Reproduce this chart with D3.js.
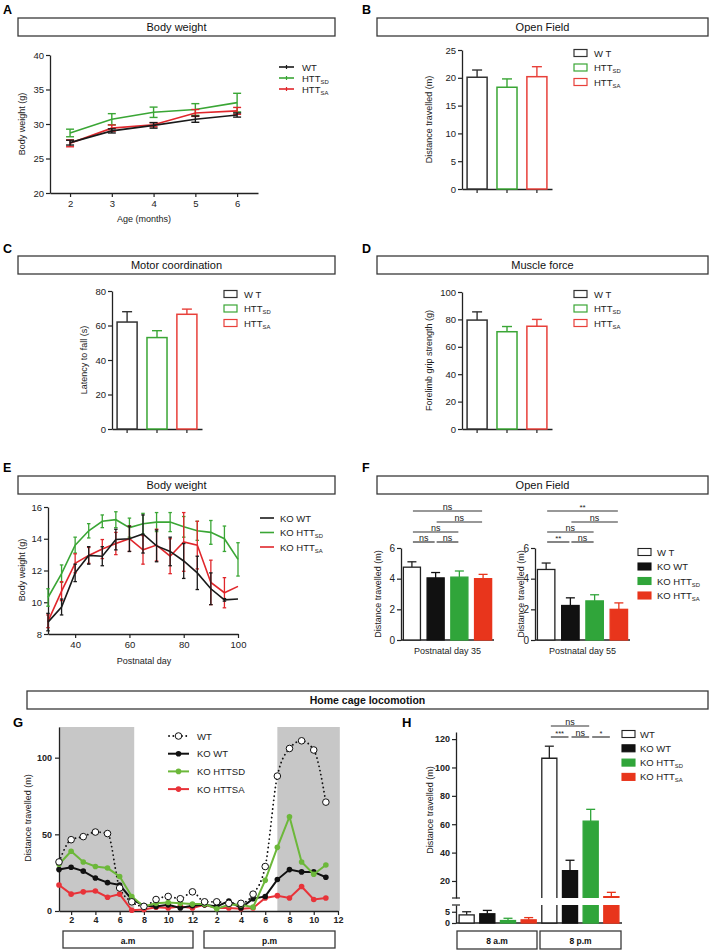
<!DOCTYPE html>
<html><head><meta charset="utf-8">
<script src="https://cdn.jsdelivr.net/npm/d3@7"></script>
<style>body{margin:0;background:#fff} svg{display:block}</style>
</head><body><svg id="c" width="709" height="950"></svg>
<script>
// ---------------- DATA ----------------
// A: body weight vs age
const ageMonths = [2,3,4,5,6];
const bwWT = [27.3,29.0,29.8,30.7,31.3], bwWTErr = [0.35,0.3,0.4,0.45,0.3];
const bwSD = [28.7,30.7,31.7,32.1,33.1], bwSDErr = [0.55,0.8,0.75,0.85,1.35];
const bwSA = [27.2,29.4,29.9,31.6,31.9], bwSAErr = [0.5,0.45,0.3,0.5,0.5];
const legendA = [["WT",""],["HTT","SD"],["HTT","SA"]];
// B, C, D: three-group bars
const groups3 = ["WT","HTTSD","HTTSA"];
const legend3 = [["W T",""],["HTT","SD"],["HTT","SA"]];
const ofVals = [20.1,18.3,20.2], ofErr = [1.3,1.5,1.8];
const rodVals = [62,53,66.5], rodErr = [6,4,3];
const gripVals = [79.5,71,75], gripErr = [6,3.8,5];
// E: KO body weight vs postnatal day
const days = [30,35,40,45,50,55,60,65,70,75,80,85,90,95,100];
const koWT = [8.75,9.7,11.85,12.95,12.9,13.95,14.0,14.3,13.55,13.2,12.6,11.85,10.85,10.15,10.2];
const koWTErr = [0.55,0.5,0.55,0.55,0.6,0.65,0.8,1.2,1.0,0.9,1.1,1.05,1.0,0.08,0];
const koSD = [10.3,11.8,13.6,14.5,15.1,15.2,14.7,14.95,15.05,15.05,14.75,14.5,14.4,14.0,12.7];
const koSDErr = [0.55,0.55,0.5,0.45,0.4,0.5,0.6,0.65,0.6,0.6,0.65,0.6,0.75,0.8,1.05];
const koSA = [8.8,10.7,12.45,12.95,13.35,13.7,14.0,13.3,13.6,12.9,13.8,13.6,11.25,10.6,11.0];
const koSAErr = [0.4,0.6,0.6,0.5,0.6,0.7,0.8,0.9,1.0,1.1,1.85,1.5,1.4,0.95,0];
const legendE = [["KO WT",""],["KO HTT","SD"],["KO  HTT","SA"]];
// F: open field, KO, 4 groups
const groups4 = ["WT","KOWT","KOSD","KOSA"];
const legend4 = [["W T",""],["KO WT",""],["KO  HTT","SD"],["KO  HTT","SA"]];
const of35 = [4.75,4.05,4.1,4.0], of35Err = [0.35,0.35,0.4,0.28];
const of55 = [4.6,2.25,2.55,2.0], of55Err = [0.42,0.5,0.4,0.42];
const sigPairsF = [[0,3],[1,3],[0,2],[0,1],[1,2]];
const sig35 = ["ns","ns","ns","ns","ns"];
const sig55 = ["**","ns","ns","**","ns"];
// G: home cage locomotion per hour
const hours = [1,2,3,4,5,6,7,8,9,10,11,12,13,14,15,16,17,18,19,20,21,22,23];
const hcWT   = [32,46.5,48.5,51.5,50.5,15,6,3,7.5,9.5,8,12.5,6,6,5,5,11,29,88,106,111,105,71];
const hcKOWT = [27,28.5,26,21.5,18.5,17,7.5,3.5,3,4,2,3.5,4,3,6.5,2,8,9.5,20.5,27,25.5,25.5,22];
const hcKOSD = [30.5,39,32,29,28,22.5,9.5,3,5,5.5,5,4.5,4.5,1.5,4,4,2.5,20,41.5,61.5,32,24,30];
const hcKOSA = [17,11,12.5,13,9,11,0.5,1,2.5,2,3,2,4,2,2,1.5,2,8.5,10,8.5,16,7.5,8.5];
const gTickPos = [2,4,6,8,10,12,14,16,18,20,22,24];
const gTickLabels = ["2","4","6","8","10","12","2","4","6","8","10","12"];
const legendG = ["WT","KO WT","KO HTTSD","KO HTTSA"];
// H: 8 a.m / 8 p.m
const periods = ["am","pm"];
const hAM = [3.6,4.1,1.1,1.4], hAMErr = [1.4,1.5,1.0,1.0];
const hPM = [106.5,27.3,62.2,8.9], hPMErr = [8.5,7.3,8.3,3.1];
const legendH = [["WT",""],["KO WT",""],["KO HTT","SD"],["KO HTT","SA"]];
const sigPairsH = [[0,2],[0,1],[1,2],[2,3]];
const sigH = ["ns","***","ns","*"];

// ---------------- DRAW ----------------
const FF = '"Liberation Sans", Arial, Helvetica, sans-serif';
const svg = d3.select("#c").attr("font-family", FF);
const INK = "#222";
const fmt = d3.format("~g");

function titleBox(x1,y1,x2,y2,label,bold,fs){
  svg.append("rect").attr("x",x1).attr("y",y1).attr("width",x2-x1).attr("height",y2-y1)
    .attr("fill","#fff").attr("stroke","#3a3a3a").attr("stroke-width",1.3);
  svg.append("text").attr("x",(x1+x2)/2).attr("y",(y1+y2)/2+4).attr("text-anchor","middle")
    .attr("font-size",fs||11).attr("font-weight",bold?"bold":"normal").attr("fill","#111").text(label);
}
function letter(x,y,t,fs){
  svg.append("text").attr("x",x).attr("y",y).attr("font-size",fs||12.5).attr("font-weight","bold").attr("fill","#000").text(t);
}
function styleAxis(g,fs,bold){
  g.select(".domain").attr("stroke",INK).attr("stroke-width",1.3);
  g.selectAll(".tick line").attr("stroke",INK).attr("stroke-width",1.2);
  g.selectAll(".tick text").attr("font-size",fs||9).attr("fill",INK)
    .attr("font-family",FF).attr("font-weight",bold?"bold":"normal");
}
function yLabel(x,y,t,fs){
  svg.append("text").attr("transform",`translate(${x},${y}) rotate(-90)`).attr("text-anchor","middle")
    .attr("font-size",fs||9).attr("fill","#222").text(t);
}
function subText(sel,base,sub,fs){
  sel.attr("font-size",fs).attr("fill","#222");
  sel.append("tspan").text(base);
  if(sub) sel.append("tspan").attr("font-size",fs*0.62).attr("dy",2).text(sub);
}
function errBar(g,x,y1,y2,cap,color,w,bothCaps){
  g.append("line").attr("x1",x).attr("x2",x).attr("y1",y1).attr("y2",y2).attr("stroke",color).attr("stroke-width",w);
  g.append("line").attr("x1",x-cap/2).attr("x2",x+cap/2).attr("y1",y2).attr("y2",y2).attr("stroke",color).attr("stroke-width",w);
  if(bothCaps) g.append("line").attr("x1",x-cap/2).attr("x2",x+cap/2).attr("y1",y1).attr("y2",y1).attr("stroke",color).attr("stroke-width",w);
}

// ===== Panel A =====
letter(3,14,"A");
titleBox(18,18,335,36,"Body weight");
{
  const x = d3.scaleLinear().domain([1.52,6.5]).range([50,258]);
  const y = d3.scaleLinear().domain([20,40]).range([193,55]);
  const gy = svg.append("g").attr("transform","translate(50,0)")
    .call(d3.axisLeft(y).tickValues([20,25,30,35,40]).tickFormat(fmt).tickSize(4).tickSizeOuter(0).tickPadding(2));
  styleAxis(gy,9.5);
  const gx = svg.append("g").attr("transform","translate(0,193)")
    .call(d3.axisBottom(x).tickValues(ageMonths).tickFormat(fmt).tickSize(4).tickSizeOuter(0).tickPadding(3));
  styleAxis(gx,9.5);
  svg.append("text").attr("x",144).attr("y",222).attr("text-anchor","middle").attr("font-size",9).attr("fill","#222").text("Age (months)");
  yLabel(25,124,"Body weight (g)");
  const series = [[bwWT,bwWTErr,"#1a1a1a"],[bwSD,bwSDErr,"#3aa635"],[bwSA,bwSAErr,"#e0262b"]];
  const g = svg.append("g");
  [series[1],series[2],series[0]].forEach(([v,e,c])=>{
    g.append("path").datum(v).attr("fill","none").attr("stroke",c).attr("stroke-width",1.6)
      .attr("d",d3.line().x((d,i)=>x(ageMonths[i])).y(d=>y(d)));
    v.forEach((d,i)=>errBar(g,x(ageMonths[i]),y(d-e[i]),y(d+e[i]),8,c,1.4,true));
  });
  legendA.forEach((l,i)=>{
    const yy = 67+i*11;
    svg.append("line").attr("x1",279).attr("x2",294).attr("y1",yy).attr("y2",yy).attr("stroke",series[i][2]).attr("stroke-width",1.6);
    svg.append("line").attr("x1",286.5).attr("x2",286.5).attr("y1",yy-2).attr("y2",yy+2).attr("stroke",series[i][2]).attr("stroke-width",1.2);
    subText(svg.append("text").attr("x",302).attr("y",yy+3.5),l[0],l[1],9.5);
  });
}

// ===== Panels B, C, D =====
const colors3 = ["#333333","#3aa635","#e8403a"];
function barPanel3(o){
  const x = d3.scaleBand().domain(groups3).range([o.x0,o.x1]).paddingInner(0.33).paddingOuter(0.17);
  const y = d3.scaleLinear().domain([0,o.max]).range([o.yb,o.yt]);
  const gy = svg.append("g").attr("transform",`translate(${o.x0},0)`)
    .call(d3.axisLeft(y).tickValues(o.ticks).tickFormat(fmt).tickSize(4).tickSizeOuter(0).tickPadding(2));
  styleAxis(gy,9.5);
  const gx = svg.append("g").attr("transform",`translate(0,${o.yb})`)
    .call(d3.axisBottom(x).tickSize(4).tickSizeOuter(0).tickFormat(""));
  styleAxis(gx,9);
  const g = svg.append("g");
  groups3.forEach((k,i)=>{
    const cx = x(k)+x.bandwidth()/2;
    errBar(g,cx,y(o.vals[i]),y(o.vals[i]+o.errs[i]),10,colors3[i],1.4,false);
    g.append("rect").attr("x",x(k)).attr("y",y(o.vals[i])).attr("width",x.bandwidth())
      .attr("height",o.yb-y(o.vals[i])).attr("fill","#fff").attr("stroke",colors3[i]).attr("stroke-width",1.5);
  });
  yLabel(o.ylx,(o.yb+o.yt)/2,o.ylabel);
  legend3.forEach((l,i)=>{
    const yy = o.ly+i*14.5;
    svg.append("rect").attr("x",o.lx).attr("y",yy-3.5).attr("width",13).attr("height",7)
      .attr("fill","#fff").attr("stroke",colors3[i]).attr("stroke-width",1.2);
    subText(svg.append("text").attr("x",o.lx+20).attr("y",yy+3.5),l[0],l[1],9.5);
  });
}
letter(362,14,"B");
titleBox(377,18,708,36,"Open Field");
barPanel3({x0:462,x1:552,yb:189,yt:50,max:25,ticks:[0,5,10,15,20,25],vals:ofVals,errs:ofErr,ylx:432,ylabel:"Distance travelled (m)",lx:574,ly:53});

letter(3,253,"C");
titleBox(18,256,335,274,"Motor coordination");
barPanel3({x0:112,x1:202,yb:429,yt:291,max:80,ticks:[0,20,40,60,80],vals:rodVals,errs:rodErr,ylx:87,ylabel:"Latency to fall (s)",lx:224,ly:294});

letter(362,253,"D");
titleBox(377,256,708,274,"Muscle force");
barPanel3({x0:462,x1:552,yb:429,yt:292,max:100,ticks:[0,20,40,60,80,100],vals:gripVals,errs:gripErr,ylx:432,ylabel:"Forelimb grip strength (g)",lx:574,ly:294});

// ===== Panel E =====
letter(3,472,"E");
titleBox(18,476,335,494,"Body weight");
{
  const x = d3.scaleLinear().domain([30,100]).range([48,238]);
  const y = d3.scaleLinear().domain([8,16]).range([634,507]);
  const gy = svg.append("g").attr("transform","translate(48,0)")
    .call(d3.axisLeft(y).tickValues([8,10,12,14,16]).tickFormat(fmt).tickSize(4).tickSizeOuter(0).tickPadding(2));
  styleAxis(gy,9.5);
  const gx = svg.append("g").attr("transform","translate(0,634)")
    .call(d3.axisBottom(x).tickValues([40,60,80,100]).tickFormat(fmt).tickSize(4).tickSizeOuter(0).tickPadding(3));
  styleAxis(gx,9.5);
  svg.append("text").attr("x",144).attr("y",664).attr("text-anchor","middle").attr("font-size",9).attr("fill","#222").text("Postnatal day");
  yLabel(25,570,"Body weight (g)");
  const series = [[koWT,koWTErr,"#1a1a1a"],[koSD,koSDErr,"#3aa635"],[koSA,koSAErr,"#e0262b"]];
  const g = svg.append("g");
  [series[1],series[2],series[0]].forEach(([v,e,c])=>{
    v.forEach((d,i)=>{ if(e[i]>0) errBar(g,x(days[i]),y(d-e[i]),y(d+e[i]),3.5,c,1.3,true); });
    g.append("path").datum(v).attr("fill","none").attr("stroke",c).attr("stroke-width",1.6)
      .attr("d",d3.line().x((d,i)=>x(days[i])).y(d=>y(d)));
  });
  legendE.forEach((l,i)=>{
    const yy = 518+i*14.5;
    svg.append("line").attr("x1",260).attr("x2",274).attr("y1",yy).attr("y2",yy).attr("stroke",series[i][2]).attr("stroke-width",1.6);
    subText(svg.append("text").attr("x",280).attr("y",yy+3.5),l[0],l[1],9.5);
  });
}

// ===== Panel F =====
letter(362,472,"F");
titleBox(377,476,708,494,"Open Field");
const colors4 = ["#fff","#111111","#30a53a","#e8351c"];
const stroke4 = ["#222","#111111","#30a53a","#e8351c"];
function barPanel4(o){
  const x = d3.scaleBand().domain(groups4).range([o.x0,o.x1]).paddingInner(0.28).paddingOuter(0.1);
  const y = d3.scaleLinear().domain([0,6]).range([640,548]);
  const gy = svg.append("g").attr("transform",`translate(${o.x0},0)`)
    .call(d3.axisLeft(y).tickValues([0,2,4,6]).tickFormat(fmt).tickSize(4).tickSizeOuter(0).tickPadding(2));
  styleAxis(gy,10);
  svg.append("line").attr("x1",o.x0).attr("x2",o.x1).attr("y1",640).attr("y2",640).attr("stroke",INK).attr("stroke-width",1.3);
  const g = svg.append("g");
  groups4.forEach((k,i)=>{
    const cx = x(k)+x.bandwidth()/2;
    errBar(g,cx,y(o.vals[i]),y(o.vals[i]+o.errs[i]),9,stroke4[i],1.3,false);
    g.append("rect").attr("x",x(k)).attr("y",y(o.vals[i])).attr("width",x.bandwidth())
      .attr("height",640-y(o.vals[i])).attr("fill",colors4[i]).attr("stroke",stroke4[i]).attr("stroke-width",1.3);
  });
  const levels = [511,522,532,542,542];
  sigPairsF.forEach(([a,b],j)=>{
    const xa = x(groups4[a])+x.bandwidth()/2+1, xb = x(groups4[b])+x.bandwidth()/2-1;
    svg.append("line").attr("x1",xa).attr("x2",xb).attr("y1",levels[j]).attr("y2",levels[j]).attr("stroke","#333").attr("stroke-width",1.2);
    svg.append("text").attr("x",(xa+xb)/2).attr("y",levels[j]-1.5).attr("text-anchor","middle")
      .attr("font-size",o.sig[j]==="ns"?9:8).attr("fill","#222").text(o.sig[j]);
  });
  svg.append("text").attr("x",(o.x0+o.x1)/2).attr("y",654).attr("text-anchor","middle").attr("font-size",9).attr("fill","#222").text(o.label);
  yLabel(o.ylx,594,"Distance travelled (m)");
}
barPanel4({x0:401,x1:494,vals:of35,errs:of35Err,sig:sig35,label:"Postnatal day 35",ylx:381});
barPanel4({x0:535,x1:630,vals:of55,errs:of55Err,sig:sig55,label:"Postnatal day 55",ylx:524});
legend4.forEach((l,i)=>{
  const yy = 552+i*14.5;
  svg.append("rect").attr("x",638).attr("y",yy-3.5).attr("width",13).attr("height",7)
    .attr("fill",colors4[i]).attr("stroke",stroke4[i]).attr("stroke-width",1.1);
  subText(svg.append("text").attr("x",657).attr("y",yy+3.5),l[0],l[1],9.5);
});

// ===== Home cage title =====
titleBox(27,691,708,709,"Home cage locomotion",true,10.5);

// ===== Panel G =====
letter(13,727,"G",13);
{
  const x = d3.scaleLinear().domain([1,24]).range([59,338]);
  const y = d3.scaleLinear().domain([0,120]).range([911,727]);
  const shade = [[1,7.2],[19,24.15]];
  shade.forEach(([a,b])=>svg.append("rect").attr("x",x(a)).attr("y",y(120)).attr("width",x(b)-x(a))
    .attr("height",y(0)-y(120)).attr("fill","#c7c7c7"));
  const gy = svg.append("g").attr("transform","translate(59,0)")
    .call(d3.axisLeft(y).tickValues([0,50,100]).tickFormat(fmt).tickSize(4).tickSizeOuter(0).tickPadding(3));
  styleAxis(gy,9,true);
  const gx = svg.append("g").attr("transform","translate(0,911)")
    .call(d3.axisBottom(x).tickValues(gTickPos).tickFormat((d,i)=>gTickLabels[i]).tickSize(4).tickSizeOuter(0).tickPadding(2));
  styleAxis(gx,9,true);
  yLabel(31,818,"Distance travelled (m)");
  const g = svg.append("g");
  const line = d3.line().x((d,i)=>x(hours[i])).y(d=>y(d));
  const cols = {koWT:"#111111",koSD:"#6cb83a",koSA:"#e83339"};
  g.append("path").datum(hcWT).attr("fill","none").attr("stroke","#111").attr("stroke-width",1.8)
    .attr("stroke-dasharray","0.1,4.2").attr("stroke-linecap","round")
    .attr("d",d3.line().x((d,i)=>x(hours[i])).y(d=>y(d)).curve(d3.curveMonotoneX));
  [[hcKOSA,cols.koSA],[hcKOWT,cols.koWT],[hcKOSD,cols.koSD]].forEach(([v,c])=>{
    g.append("path").datum(v).attr("fill","none").attr("stroke",c).attr("stroke-width",2).attr("d",line);
    v.forEach((d,i)=>g.append("circle").attr("cx",x(hours[i])).attr("cy",y(d)).attr("r",2.8).attr("fill",c));
  });
  hcWT.forEach((d,i)=>g.append("circle").attr("cx",x(hours[i])).attr("cy",y(d)).attr("r",3.3)
    .attr("fill","#fff").attr("stroke","#111").attr("stroke-width",1));
  // legend
  const lc = ["#111",cols.koWT,cols.koSD,cols.koSA];
  legendG.forEach((l,i)=>{
    const yy = 736+i*17.7;
    if(i===0){
      svg.append("line").attr("x1",169).attr("x2",188).attr("y1",yy).attr("y2",yy).attr("stroke","#111")
        .attr("stroke-width",1.8).attr("stroke-dasharray","0.1,4.2").attr("stroke-linecap","round");
      svg.append("circle").attr("cx",178.5).attr("cy",yy).attr("r",3.3).attr("fill","#fff").attr("stroke","#111");
    } else {
      svg.append("line").attr("x1",168).attr("x2",189).attr("y1",yy).attr("y2",yy).attr("stroke",lc[i]).attr("stroke-width",2);
      svg.append("circle").attr("cx",178.5).attr("cy",yy).attr("r",2.8).attr("fill",lc[i]);
    }
    svg.append("text").attr("x",197).attr("y",yy+3.5).attr("font-size",9.5).attr("fill","#222").text(l);
  });
  titleBox(63,931,193,948,"a.m",true,8.5);
  titleBox(204,931,335,948,"p.m",true,8.5);
}

// ===== Panel H =====
letter(402,727,"H",13);
{
  const keys = [];
  periods.forEach(p=>groups4.forEach(k=>keys.push(p+"_"+k)));
  const x = d3.scaleBand().domain(keys).range([456,622]).paddingInner(0.27).paddingOuter(0.15);
  const yU = d3.scaleLinear().domain([8,125]).range([898,732]);
  const yL = d3.scaleLinear().domain([0,8]).range([923,905]);
  const gu = svg.append("g").attr("transform","translate(456,0)")
    .call(d3.axisLeft(yU).tickValues([20,40,60,80,100,120]).tickFormat(fmt).tickSize(4).tickSizeOuter(0).tickPadding(2));
  styleAxis(gu,9,true);
  const gl = svg.append("g").attr("transform","translate(456,0)")
    .call(d3.axisLeft(yL).tickValues([0,5]).tickFormat(fmt).tickSize(4).tickSizeOuter(0).tickPadding(2));
  styleAxis(gl,9,true);
  [yU(8),yL(8)].forEach(yy=>svg.append("line").attr("x1",452).attr("x2",460).attr("y1",yy).attr("y2",yy).attr("stroke",INK).attr("stroke-width",1.2));
  svg.append("line").attr("x1",456).attr("x2",622).attr("y1",923).attr("y2",923).attr("stroke",INK).attr("stroke-width",1.3);
  yLabel(433,810,"Distance travelled (m)");
  const g = svg.append("g");
  const cut = 8;
  [[hAM,hAMErr,"am"],[hPM,hPMErr,"pm"]].forEach(([vals,errs,p])=>{
    groups4.forEach((k,i)=>{
      const key = p+"_"+k, x0 = x(key), w = x.bandwidth(), v = vals[i], top = v+errs[i];
      const fill = colors4[i], st = stroke4[i];
      const ys = d=> d<=cut ? yL(d) : yU(d);
      errBar(g,x0+w/2,ys(v),ys(top),9,st,1.3,false);
      if(v<=cut){
        g.append("rect").attr("x",x0).attr("y",yL(v)).attr("width",w).attr("height",yL(0)-yL(v))
          .attr("fill",fill).attr("stroke",st).attr("stroke-width",1.3);
      } else {
        g.append("rect").attr("x",x0).attr("y",yL(cut)).attr("width",w).attr("height",yL(0)-yL(cut)).attr("fill",fill);
        g.append("path").attr("d",`M${x0},${yL(cut)}V${yL(0)}H${x0+w}V${yL(cut)}`).attr("fill","none").attr("stroke",st).attr("stroke-width",1.3);
        g.append("rect").attr("x",x0).attr("y",yU(v)).attr("width",w).attr("height",yU(cut)-yU(v)).attr("fill",fill);
        g.append("path").attr("d",`M${x0},${yU(cut)}V${yU(v)}H${x0+w}V${yU(cut)}`).attr("fill","none").attr("stroke",st).attr("stroke-width",1.3);
      }
    });
  });
  const levels = [726,737,737,737];
  sigPairsH.forEach(([a,b],j)=>{
    const xa = x("pm_"+groups4[a])+x.bandwidth()/2+1.5, xb = x("pm_"+groups4[b])+x.bandwidth()/2-1.5;
    svg.append("line").attr("x1",xa).attr("x2",xb).attr("y1",levels[j]).attr("y2",levels[j]).attr("stroke","#333").attr("stroke-width",1.2);
    svg.append("text").attr("x",(xa+xb)/2).attr("y",levels[j]-1.5).attr("text-anchor","middle")
      .attr("font-size",sigH[j]==="ns"?9:7.5).attr("fill","#222").text(sigH[j]);
  });
  legendH.forEach((l,i)=>{
    const yy = 734+i*14.3;
    svg.append("rect").attr("x",622).attr("y",yy-3.5).attr("width",13).attr("height",7)
      .attr("fill",colors4[i]).attr("stroke",stroke4[i]).attr("stroke-width",1.1);
    subText(svg.append("text").attr("x",640).attr("y",yy+3.5),l[0],l[1],9.5);
  });
  titleBox(457,931,537,949,"8 a.m",true,8.5);
  titleBox(540,931,621,949,"8 p.m",true,8.5);
}
</script></body></html>
